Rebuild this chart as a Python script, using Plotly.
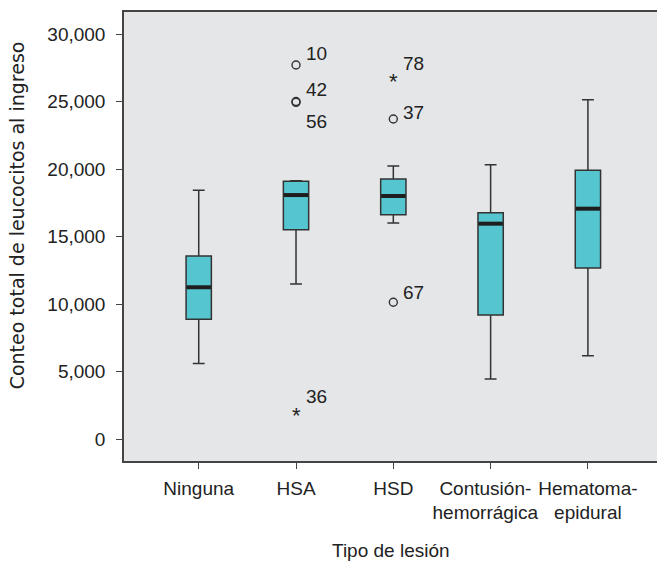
import plotly.graph_objects as go

categories = ["Ninguna", "HSA", "HSD", "Contusión-\u00a0\u00a0<br>hemorrágica\u00a0\u00a0", "Hematoma-<br>epidural"]
lower_whisker = [5600, 11480, 16000, 4440, 6170]
q1 = [8870, 15500, 16620, 9190, 12670]
median = [11240, 18070, 18000, 15950, 17060]
q3 = [13560, 19100, 19260, 16760, 19900]
upper_whisker = [18420, 19130, 20220, 20320, 25130]

# outliers (circles): category index, value, case label
out_cat = [1, 1, 1, 2, 2]
out_val = [27700, 25000, 24940, 23700, 10130]
out_lab = ["10", "42", "56", "37", "67"]
# extremes (asterisks)
ext_cat = [1, 2]
ext_val = [2150, 26890]
ext_lab = ["36", "78"]

y_ticks = [0, 5000, 10000, 15000, 20000, 25000, 30000]

FILL = "#55C6D0"
EDGE = "#333333"
BG = "#E5E6E8"
FONT = "Liberation Sans, Arial, sans-serif"
TXT = "#222222"
BOXW = 0.26

xs = list(range(len(categories)))

fig = go.Figure()
fig.add_trace(go.Box(
    x=xs, q1=q1, median=median, q3=q3,
    lowerfence=lower_whisker, upperfence=upper_whisker,
    width=BOXW, whiskerwidth=0.47, fillcolor=FILL,
    line=dict(color=EDGE, width=1.5), boxpoints=False, showlegend=False,
    hoverinfo="skip",
))
# thick median bars
for i, m in zip(xs, median):
    fig.add_trace(go.Scatter(
        x=[i - BOXW / 2 + 0.005, i + BOXW / 2 - 0.005], y=[m, m], mode="lines",
        line=dict(color="#1e1e1e", width=4), showlegend=False, hoverinfo="skip"))

fig.add_trace(go.Scatter(
    x=out_cat, y=out_val, mode="markers",
    marker=dict(symbol="circle-open", size=8, color=EDGE, line=dict(width=1.4, color=EDGE)),
    showlegend=False, hoverinfo="skip"))
# asterisks drawn as text glyphs
for c, v in zip(ext_cat, ext_val):
    fig.add_annotation(x=c, y=v, text="*", showarrow=False, xanchor="center", yanchor="middle",
                       yshift=-6, font=dict(family=FONT, size=22, color=TXT))

label_shift = {"10": (8, 12), "42": (8, 12), "56": (8, -19), "37": (8, 7),
               "67": (8, 10), "36": (8, 13), "78": (8, 12)}
for c, v, lab in list(zip(out_cat, out_val, out_lab)) + list(zip(ext_cat, ext_val, ext_lab)):
    dx, dy = label_shift[lab]
    fig.add_annotation(x=c, y=v, text=lab, showarrow=False, xanchor="left", yanchor="middle",
                       xshift=dx, yshift=dy, font=dict(family=FONT, size=19, color=TXT))

fig.add_annotation(xref="paper", yref="paper", x=-0.2008, y=0.547,
                   text="Conteo total de leucocitos al ingreso",
                   textangle=-90, showarrow=False, xanchor="center", yanchor="middle",
                   font=dict(family="DejaVu Sans, sans-serif", size=19, color=TXT))
fig.add_annotation(xref="paper", yref="paper", x=0.5, y=-0.2, text="Tipo de lesión",
                   showarrow=False, xanchor="center", yanchor="middle",
                   font=dict(family=FONT, size=19, color=TXT))

fig.update_layout(
    width=657, height=563,
    margin=dict(l=124, r=0, t=12, b=102),
    paper_bgcolor="white", plot_bgcolor=BG,
    font=dict(family=FONT, size=19, color=TXT),
    xaxis=dict(range=[-0.768, 4.71], tickvals=xs, ticktext=categories, tickangle=0,
               showgrid=False, zeroline=False, showline=True, linecolor="#444", linewidth=1.5,
               mirror=True, ticks="outside", ticklen=6, tickcolor="#444", tickwidth=1.2,
               ticklabelstandoff=3, automargin=False,
               tickfont=dict(family=FONT, size=19, color=TXT)),
    yaxis=dict(range=[-1630, 31630], tickvals=y_ticks, tickformat=",d",
               showgrid=False, zeroline=False, showline=True, linecolor="#444", linewidth=1.5,
               ticks="outside", ticklen=6, tickcolor="#444", tickwidth=1.2,
               ticklabelstandoff=7, automargin=False,
               tickfont=dict(family=FONT, size=19, color=TXT)),
)

fig.write_html("out.html", config={"displayModeBar": False},
               post_script="document.body.style.margin='0';document.body.style.overflow='hidden';")
